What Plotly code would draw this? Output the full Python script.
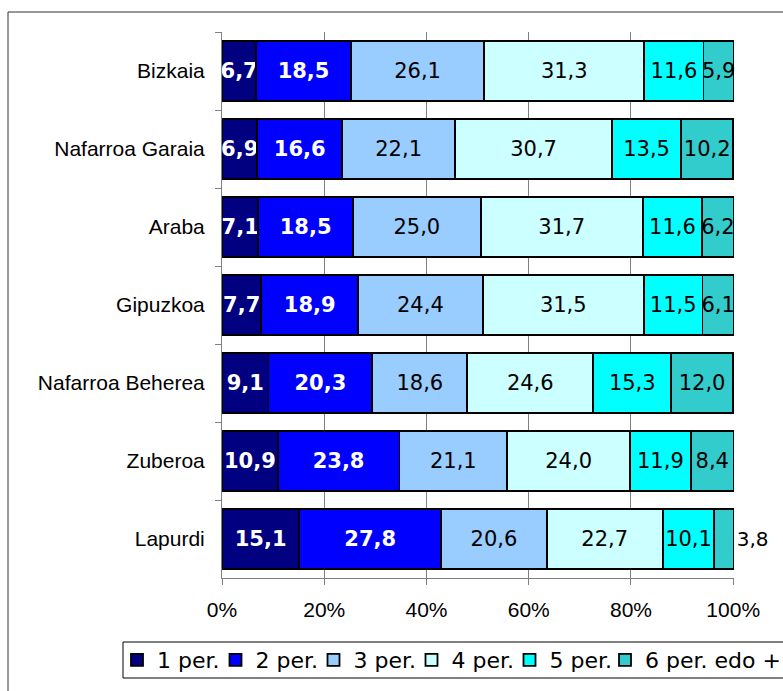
import plotly.graph_objects as go

regions = ["Bizkaia", "Nafarroa Garaia", "Araba", "Gipuzkoa",
           "Nafarroa Beherea", "Zuberoa", "Lapurdi"]
series_names = ["1 per.", "2 per.", "3 per.", "4 per.", "5 per.", "6 per. edo +"]
per1 = [6.7, 6.9, 7.1, 7.7, 9.1, 10.9, 15.1]
per2 = [18.5, 16.6, 18.5, 18.9, 20.3, 23.8, 27.8]
per3 = [26.1, 22.1, 25.0, 24.4, 18.6, 21.1, 20.6]
per4 = [31.3, 30.7, 31.7, 31.5, 24.6, 24.0, 22.7]
per5 = [11.6, 13.5, 11.6, 11.5, 15.3, 11.9, 10.1]
per6 = [5.9, 10.2, 6.2, 6.1, 12.0, 8.4, 3.8]
tick_vals = [0, 20, 40, 60, 80, 100]
tick_text = ["0%", "20%", "40%", "60%", "80%", "100%"]

colors = ["#000080", "#0000FF", "#99CCFF", "#CCFFFF", "#00FFFF", "#33CCCC"]
series = [per1, per2, per3, per4, per5, per6]
legend_ids = ["legend", "legend2", "legend3", "legend4", "legend5", "legend6"]
legend_x_px = [117, 215.5, 313.5, 411.5, 509.5, 605]  # left pixel of each legend entry

fig = go.Figure()
for i, (name, vals) in enumerate(zip(series_names, series)):
    white = i < 2
    if i == 5:
        tpos = ["inside"] * 6 + ["outside"]
    else:
        tpos = "inside"
    fig.add_trace(go.Bar(
        y=regions, x=vals, name=name, orientation="h",
        legend=legend_ids[i],
        marker=dict(color=colors[i], line=dict(color="black", width=1.8)),
        texttemplate="%{x:.1f}", textposition=tpos, textangle=0,
        insidetextanchor="middle", constraintext="none", cliponaxis=False,
        textfont=dict(family="DejaVu Sans", size=21,
                      color="white" if white else "black",
                      weight="bold" if white else "normal"),
        outsidetextfont=dict(family="DejaVu Sans", size=20, color="black"),
        hoverinfo="skip",
    ))

L, R, T, B = 222, 49, 32, 113
W, H = 783, 691
pw, ph = W - L - R, H - T - B

def px(x):
    return (x - L) / pw

def py(y):
    return (H - B - y) / ph

legend_font = dict(family="DejaVu Sans", size=22, color="black")

layout_legends = {}
for lid, lx in zip(legend_ids, legend_x_px):
    layout_legends[lid] = dict(
        orientation="h", x=px(lx), y=py(660), xanchor="left", yanchor="middle",
        borderwidth=0, bgcolor="rgba(0,0,0,0)",
        font=legend_font, itemclick=False, itemdoubleclick=False)

fig.update_layout(
    width=W, height=H, barmode="stack", bargap=0.23,
    separators=",.",
    paper_bgcolor="white", plot_bgcolor="white",
    margin=dict(l=L, r=R, t=T, b=B, autoexpand=False),
    font=dict(family="Liberation Sans", size=21, color="black"),
    showlegend=True,
    xaxis=dict(range=[0, 100.15], tickvals=tick_vals, ticktext=tick_text,
               ticks="outside", ticklen=6, tickcolor="#808080",
               showgrid=True, gridcolor="#808080", gridwidth=1,
               showline=True, linecolor="#808080", linewidth=1,
               zeroline=False, ticklabelstandoff=7, automargin=False,
               tickfont=dict(family="Liberation Sans", size=21, color="black")),
    yaxis=dict(autorange="reversed", ticks="outside", tickson="boundaries",
               ticklen=6, tickcolor="#808080", showgrid=False,
               showline=True, linecolor="#808080", linewidth=1,
               ticklabelstandoff=12, automargin=False,
               tickfont=dict(family="Liberation Sans", size=21, color="black")),
    shapes=[
        dict(type="rect", xref="paper", yref="paper",
             x0=px(8), x1=px(800), y0=py(710), y1=py(12),
             line=dict(color="#333333", width=1), fillcolor="rgba(0,0,0,0)",
             layer="below"),
        dict(type="rect", xref="paper", yref="paper",
             x0=px(123), x1=px(800), y0=py(678), y1=py(642),
             line=dict(color="black", width=1), fillcolor="rgba(0,0,0,0)",
             layer="below"),
    ],
    **layout_legends,
)

fig.write_html("out.html", config={"displayModeBar": False},
               post_script="document.body.style.margin='0';document.body.style.overflow='hidden';")
